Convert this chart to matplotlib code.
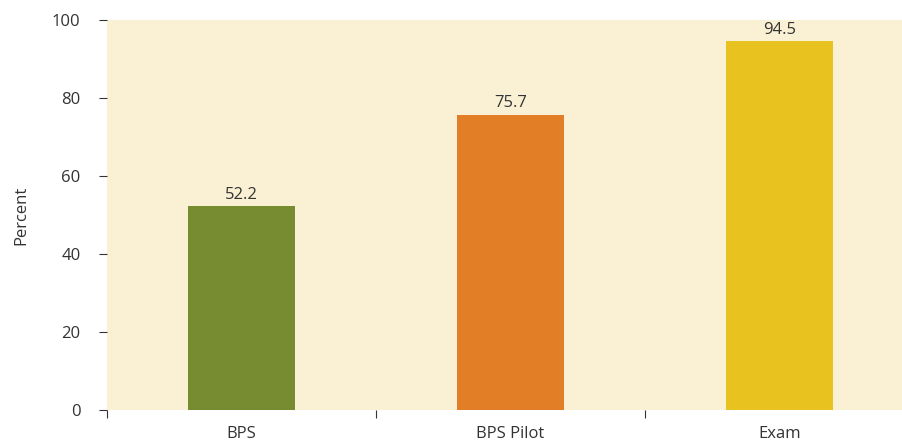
import matplotlib.pyplot as plt
import numpy as np

plt.rcParams['font.family'] = ['Open Sans', 'DejaVu Sans']

categories = ['BPS', 'BPS Pilot', 'Exam']
percent = [52.2, 75.7, 94.5]
colors = ['#778C31', '#E27F26', '#E8C31F']

fig = plt.figure(figsize=(9.02, 4.42), dpi=100)
ax = fig.add_axes([0.1186, 0.0724, 0.8814, 0.8824])
ax.set_facecolor('#FAF0D3')

pos = np.arange(len(categories)) + 0.5
ax.bar(pos, percent, width=0.4, color=colors, zorder=2)

for x, v in zip(pos, percent):
    ax.text(x, v + 1.0, f'{v:.1f}', ha='center', va='bottom',
            fontsize=12, color='#333333')

ax.set_xlim(0, 2.955)
ax.set_ylim(0, 100)

# Category separators as major ticks, names on minor ticks
ax.set_xticks([0, 1, 2])
ax.set_xticklabels([])
ax.set_xticks(pos, minor=True)
ax.set_xticklabels(categories, minor=True, fontsize=12, color='#333333')
ax.tick_params(axis='x', which='major', length=6, width=0.8, color='#333333')
ax.tick_params(axis='x', which='minor', length=0, pad=11.5)

ax.set_yticks(np.arange(0, 101, 20))
ax.tick_params(axis='y', length=6, width=0.8, color='#333333',
               labelsize=12, labelcolor='#333333', pad=13)
ax.set_ylabel('Percent', fontsize=12, color='#333333', labelpad=16)

for s in ax.spines.values():
    s.set_visible(False)

fig.savefig('out.png', dpi=100)
